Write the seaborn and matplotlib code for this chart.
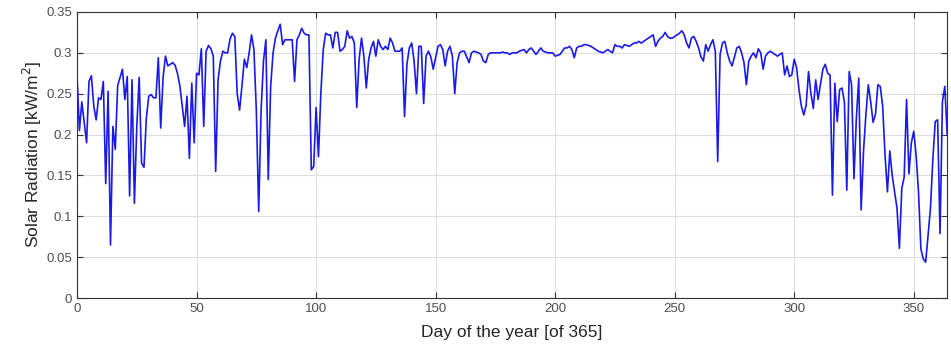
import numpy as np
import pandas as pd
import matplotlib
matplotlib.use("Agg")
import matplotlib.pyplot as plt
import seaborn as sns

radiation = [
    0.272, 0.205, 0.240, 0.215, 0.190, 0.265, 0.272, 0.235, 0.218, 0.245,
    0.243, 0.265, 0.140, 0.253, 0.065, 0.210, 0.182, 0.260, 0.270, 0.280,
    0.243, 0.271, 0.125, 0.267, 0.116, 0.210, 0.270, 0.165, 0.160, 0.220,
    0.247, 0.249, 0.245, 0.245, 0.294, 0.208, 0.270, 0.296, 0.284, 0.286,
    0.288, 0.285, 0.275, 0.260, 0.235, 0.210, 0.247, 0.171, 0.263, 0.190,
    0.275, 0.273, 0.305, 0.210, 0.302, 0.309, 0.305, 0.296, 0.155, 0.267,
    0.290, 0.302, 0.300, 0.300, 0.317, 0.324, 0.320, 0.250, 0.230, 0.260,
    0.292, 0.282, 0.300, 0.322, 0.304, 0.230, 0.106, 0.230, 0.290, 0.316,
    0.145, 0.259, 0.300, 0.318, 0.327, 0.335, 0.310, 0.316, 0.316, 0.316,
    0.316, 0.265, 0.316, 0.322, 0.330, 0.324, 0.322, 0.322, 0.157, 0.161,
    0.233, 0.173, 0.251, 0.304, 0.324, 0.322, 0.322, 0.306, 0.325, 0.325,
    0.302, 0.304, 0.308, 0.327, 0.318, 0.320, 0.312, 0.233, 0.292, 0.318,
    0.296, 0.257, 0.292, 0.306, 0.314, 0.296, 0.316, 0.308, 0.304, 0.308,
    0.304, 0.318, 0.312, 0.302, 0.302, 0.302, 0.306, 0.222, 0.286, 0.306,
    0.312, 0.290, 0.250, 0.308, 0.308, 0.238, 0.296, 0.302, 0.295, 0.280,
    0.294, 0.308, 0.310, 0.304, 0.284, 0.302, 0.308, 0.296, 0.250, 0.288,
    0.300, 0.302, 0.302, 0.295, 0.288, 0.300, 0.302, 0.301, 0.300, 0.298,
    0.290, 0.288, 0.298, 0.300, 0.300, 0.300, 0.300, 0.300, 0.301, 0.300,
    0.300, 0.298, 0.300, 0.300, 0.300, 0.302, 0.303, 0.304, 0.300, 0.304,
    0.306, 0.302, 0.298, 0.302, 0.306, 0.302, 0.301, 0.300, 0.300, 0.300,
    0.296, 0.297, 0.298, 0.302, 0.306, 0.306, 0.308, 0.304, 0.294, 0.306,
    0.308, 0.308, 0.310, 0.310, 0.309, 0.308, 0.306, 0.304, 0.302, 0.301,
    0.300, 0.302, 0.304, 0.302, 0.300, 0.310, 0.308, 0.308, 0.306, 0.310,
    0.309, 0.308, 0.310, 0.312, 0.312, 0.314, 0.312, 0.314, 0.316, 0.318,
    0.320, 0.322, 0.308, 0.314, 0.318, 0.320, 0.325, 0.320, 0.318, 0.318,
    0.320, 0.322, 0.324, 0.327, 0.322, 0.312, 0.306, 0.318, 0.320, 0.314,
    0.306, 0.295, 0.290, 0.310, 0.302, 0.310, 0.316, 0.302, 0.167, 0.298,
    0.312, 0.314, 0.300, 0.290, 0.284, 0.295, 0.306, 0.308, 0.300, 0.288,
    0.261, 0.290, 0.296, 0.300, 0.294, 0.305, 0.300, 0.280, 0.296, 0.300,
    0.302, 0.300, 0.298, 0.296, 0.298, 0.300, 0.273, 0.284, 0.271, 0.273,
    0.292, 0.282, 0.255, 0.235, 0.224, 0.236, 0.277, 0.250, 0.232, 0.267,
    0.243, 0.262, 0.280, 0.286, 0.275, 0.273, 0.126, 0.263, 0.216, 0.255,
    0.257, 0.240, 0.132, 0.277, 0.261, 0.146, 0.220, 0.269, 0.108, 0.180,
    0.225, 0.261, 0.240, 0.215, 0.225, 0.261, 0.259, 0.235, 0.175, 0.130,
    0.180, 0.150, 0.130, 0.110, 0.061, 0.134, 0.148, 0.243, 0.152, 0.190,
    0.204, 0.175, 0.130, 0.060, 0.048, 0.044, 0.077, 0.110, 0.170, 0.216,
    0.218, 0.079, 0.240, 0.259, 0.200,
]
days = list(range(len(radiation)))

x_ticks = [0, 50, 100, 150, 200, 250, 300, 350]
y_ticks = [0, 0.05, 0.1, 0.15, 0.2, 0.25, 0.3, 0.35]
y_tick_labels = ["0", "0.05", "0.1", "0.15", "0.2", "0.25", "0.3", "0.35"]

df = pd.DataFrame({"day": days, "radiation": radiation})

sns.set_style("whitegrid")
plt.rcParams["font.family"] = ["Liberation Sans", "DejaVu Sans"]

fig = plt.figure(figsize=(9.51, 3.52), dpi=100)
ax = fig.add_axes([0.081, 0.153, 0.915, 0.813])

sns.lineplot(data=df, x="day", y="radiation", ax=ax, color="#1a1ae6", linewidth=1.2)

ax.set_xlim(0, 364)
ax.set_ylim(0, 0.35)
ax.set_xticks(x_ticks)
ax.set_yticks(y_ticks)
ax.set_yticklabels(y_tick_labels)
ax.set_xlabel("Day of the year [of 365]", fontsize=12.5, color="#262626", labelpad=7)
ax.set_ylabel("Solar Radiation [kW/m$^2$]", fontsize=12.5, color="#262626", labelpad=2)

ax.grid(True, color="#dddddd", linewidth=0.8)
for s in ax.spines.values():
    s.set_visible(True)
    s.set_color("#333333")
    s.set_linewidth(0.8)
ax.tick_params(axis="both", which="both", direction="in", length=4, width=0.8,
               colors="#333333", labelcolor="#4d4d4d", labelsize=9.5,
               top=True, right=True, bottom=True, left=True)

fig.savefig("out.png", dpi=100, facecolor="white")
